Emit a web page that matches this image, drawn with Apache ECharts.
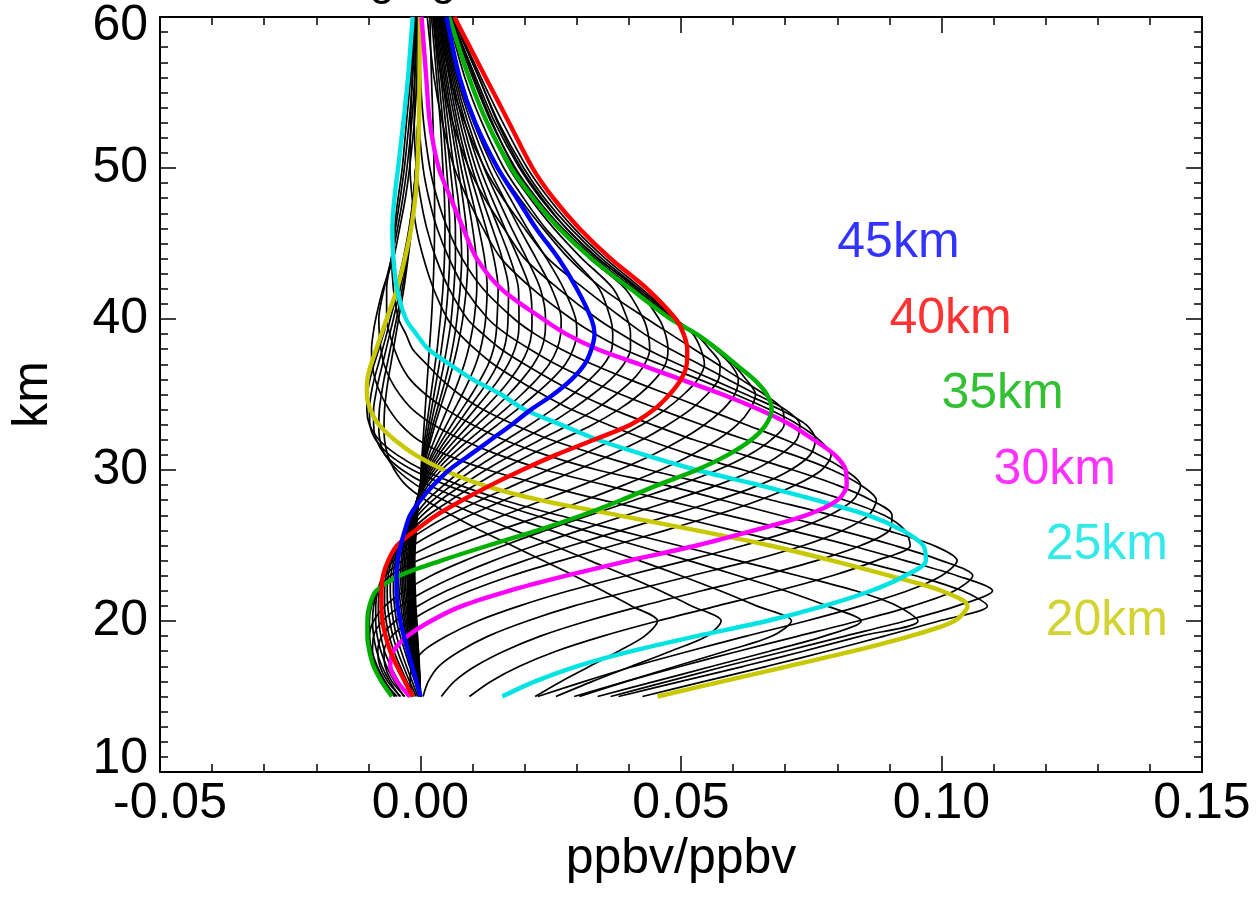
<!DOCTYPE html>
<html>
<head>
<meta charset="utf-8">
<title>Averaging Kernels</title>
<script src="https://cdn.jsdelivr.net/npm/echarts@6/dist/echarts.min.js"></script>
<style>
  html, body { margin: 0; padding: 0; background: #fff; }
  #chart { width: 1257px; height: 905px; }
</style>
</head>
<body>
<div id="chart"></div>
<script>
// altitude levels (km), shared by every kernel row
var alt = [15, 16, 17, 18, 19, 20, 21, 22, 23, 24, 25, 26, 27, 28, 29, 30, 31, 32, 33, 34,
           35, 36, 37, 38, 39, 40, 42, 44, 46, 48, 50, 53, 56, 60];

// averaging kernel rows, values in 1e-3 ppbv/ppbv, one row per nominal altitude
var k15 = [22, 27, 32.5, 38, 43, 45.5, 40.5, 35, 29.5, 23.5, 17.5, 11.5, 6, 1, -2.8, -5, -6.3, -6.9, -7, -6.9, -6.6, -6.2, -5.7, -5.2, -4.7, -4.2, -3.2, -2.4, -1.7, -1.2, -0.8, -0.4, -0.2, -0.1];
var k16 = [26, 33, 40.5, 48, 55, 57.7, 52, 46, 39.5, 32.5, 25.5, 18, 11, 4.5, -0.8, -4.5, -6.8, -7.8, -8, -7.9, -7.5, -7, -6.4, -5.8, -5.2, -4.6, -3.5, -2.6, -1.9, -1.3, -0.9, -0.5, -0.3, -0.1];
var k17 = [30.5, 39.5, 49, 58.5, 67.5, 71.2, 64.5, 57.5, 50, 42, 33.5, 25, 16.5, 8.5, 1.5, -3.5, -6.8, -8.5, -9, -9, -8.6, -8, -7.3, -6.6, -5.9, -5.2, -3.9, -2.8, -2, -1.4, -0.9, -0.5, -0.3, -0.1];
var k18 = [34, 45, 56, 67, 77.5, 84.6, 78, 70, 61, 51.5, 41.5, 31.5, 22, 13, 5, -1.5, -6, -8.6, -9.7, -9.8, -9.5, -8.9, -8.1, -7.3, -6.5, -5.8, -4.3, -3, -2.1, -1.4, -0.9, -0.5, -0.3, -0.1];
var k19 = [38, 50, 62, 73.5, 84.5, 95.5, 91.5, 83.5, 72.5, 61, 49.5, 38, 26.5, 16, 7.5, 0.5, -4.5, -8, -9.8, -10.3, -10.2, -9.7, -8.9, -8, -7.1, -6.3, -4.7, -3.3, -2.2, -1.4, -0.9, -0.5, -0.3, -0.1];
var k20 = [45.5, 58, 70.5, 83, 94, 102.5, 105, 100, 90, 79, 67, 53, 38, 23, 12, 4.5, -1, -5, -8, -9.6, -10.3, -10.2, -9.5, -8.5, -7.5, -6.5, -4.5, -3, -1.8, -1, -0.6, -0.3, -0.2, -0.1];
var k21 = [42.6, 54.5, 66.5, 78, 89, 99.5, 108.8, 104, 95, 84, 72, 60, 48, 35, 23.5, 13, 5, -0.5, -3.8, -6, -7.6, -8.7, -9.3, -9.4, -9.1, -8.6, -7.2, -5.2, -4, -2.9, -2.1, -1.2, -0.7, -0.4];
var k22 = [36.5, 47.5, 58.5, 70, 81.5, 93, 103, 109.8, 103, 93, 82.5, 71, 59, 47, 35.5, 24, 15, 8, 2.5, -1.5, -4, -5.8, -7, -7.6, -7.9, -8, -7, -5.6, -4.4, -3.4, -2.6, -1.7, -1.1, -0.6];
var k23 = [29.5, 39.5, 50, 61, 72.5, 84, 94.5, 102.5, 106, 100, 91, 80.5, 69, 58, 47, 34, 24, 16, 10, 5, 1, -2, -3.8, -5, -5.9, -6.5, -6.5, -5.6, -4.8, -3.9, -3.1, -2.2, -1.5, -0.9];
var k24 = [22.5, 31.5, 41, 51.5, 62.5, 74, 84.5, 93.5, 100, 103, 98.5, 89.5, 79, 67.5, 56, 44, 34, 25, 18, 12, 7.5, 4, 1.2, -1.5, -2.8, -4.2, -5.2, -5.5, -5, -4.3, -3.5, -2.7, -1.9, -1.2];
var k25 = [15.7, 22, 30, 40.5, 53, 66.5, 77.5, 86.5, 93, 97, 96.5, 92.5, 86, 76, 65, 53, 43, 34, 27, 20, 15.5, 10, 5.6, 1.5, -0.8, -2.8, -4.5, -5.2, -5.4, -5, -4.3, -3.3, -2.4, -1.5];
var k26 = [9.4, 13.5, 19, 26, 35, 45.5, 57, 68.5, 79, 87.5, 94, 93, 89, 81.5, 72, 62, 52, 43.5, 36, 29, 23.5, 18.5, 14, 10.5, 7.5, 5.2, 2.5, 0.6, -0.8, -1.6, -2, -1.9, -1.6, -1.2];
var k27 = [4, 6.5, 10.5, 16, 23, 32, 42.5, 54, 65.5, 76, 84.5, 90, 90.5, 86.5, 80, 71.5, 62, 52.5, 44.5, 37, 30.5, 25, 20, 15.5, 12, 9, 5.5, 3, 1.2, 0, -0.8, -1.2, -1.1, -0.9];
var k28 = [0.5, 1.5, 3.5, 7.5, 13, 20.5, 29.5, 40.5, 52, 63.5, 73.5, 81, 86, 87.5, 84.5, 79, 71.5, 62.5, 54, 46, 38.5, 32, 26, 21, 16.5, 13, 8.5, 5.5, 3.2, 1.6, 0.5, -0.3, -0.6, -0.6];
var k29 = [-1.5, -2, -1.5, 0.5, 5, 11, 19, 28.5, 39.5, 51, 62, 71.5, 78.5, 83, 84.5, 81.5, 76.5, 70, 62.5, 55, 47.5, 40, 33, 27, 22, 18, 12, 8, 5.2, 3.2, 1.8, 0.6, 0, -0.2];
var k30 = [-2, -4.5, -5.8, -5.2, -2.5, 2, 8, 17, 28, 40, 53, 64, 74, 80, 81.8, 81.6, 79.5, 75.5, 71, 65, 58, 50, 42, 34, 28, 23.5, 15.5, 10.8, 8.2, 5.8, 3.5, 1.8, 1.1, 0.2];
var k31 = [-3, -5.5, -6.8, -7, -5.5, -2, 3, 9.5, 17.5, 27, 37, 47, 56.5, 65, 72, 77, 78.8, 76.5, 72.5, 67, 60.5, 53.5, 46, 39, 33.5, 29, 21.5, 15.5, 12, 9, 6.5, 4.2, 2.6, 1.3];
var k32 = [-3.8, -6.3, -7.8, -8.2, -7.4, -4.8, -0.5, 5, 12, 20, 29, 38.5, 48, 57, 65, 71, 74.8, 75.8, 74, 69, 62.5, 56, 49.5, 43.5, 38.5, 34, 26.5, 20, 16, 12.3, 9.3, 6.2, 4, 2.4];
var k33 = [-4.5, -7, -8.6, -9.2, -9, -7.3, -3.8, 1, 7, 14, 22, 30.5, 39.5, 48.5, 57, 64, 69, 72.2, 72.8, 70, 64.5, 59, 53.5, 48, 43, 39, 31.5, 24.5, 20, 15.8, 12.3, 8.5, 5.6, 3.5];
var k34 = [-5, -7.3, -8.9, -9.6, -9.8, -9, -6.8, -3, 2, 8.5, 16, 24, 32.5, 41, 49.5, 57, 63, 67.3, 69.8, 69.5, 66, 61.5, 57, 52.5, 48, 43.5, 35, 28.5, 23.5, 19, 15, 10.5, 7.2, 4.6];
var k35 = [-5.5, -7.5, -9, -9.8, -10.2, -10.2, -9.8, -8.5, -4, 4, 13, 22.5, 31, 38.5, 45.5, 53, 59, 63.5, 66.3, 67.4, 66.5, 64, 60.5, 57, 53, 48, 40.3, 32.8, 26.6, 21.6, 17.4, 12.8, 9.3, 5.5];
var k36 = [-4.8, -6.8, -8.3, -9.3, -9.8, -9.8, -9.4, -8.3, -5.8, -0.5, 7, 15, 23.5, 31.5, 39, 46, 52, 57, 60.8, 63.2, 64.3, 62.5, 60, 56.8, 52.8, 48.2, 41, 33.5, 27.3, 22.3, 18.2, 13.6, 10, 5.7];
var k37 = [-4, -5.9, -7.4, -8.4, -9, -9.2, -9, -8.3, -6.8, -3.5, 2, 8.5, 16, 23.5, 31, 38, 44.5, 50, 54.5, 58, 60.3, 61, 59.5, 56.5, 53, 48.5, 41.5, 34.2, 28, 23, 19, 14.3, 10.6, 5.9];
var k38 = [-3.2, -5, -6.5, -7.6, -8.3, -8.6, -8.6, -8.2, -7.2, -5.2, -1.5, 3.5, 9.5, 16, 23, 30, 36.5, 42.5, 47.5, 51.8, 55, 57.2, 57.5, 55.5, 52.8, 48.8, 42, 34.8, 28.8, 23.8, 19.8, 15, 11.2, 6.1];
var k39 = [-2.4, -4.2, -5.7, -6.9, -7.6, -8, -8.1, -7.9, -7.3, -6, -3.5, 0.5, 5.5, 11.5, 18, 24.5, 31, 37, 42.5, 47, 50.5, 53.2, 54.5, 53.8, 52.3, 49, 42.5, 35.5, 29.5, 24.6, 20.5, 15.8, 11.6, 6.3];
var k40 = [-1.5, -3, -4.5, -5.8, -6.7, -7.3, -7.5, -7.5, -7.2, -6.2, -4.5, -1, 3, 8, 13.5, 19.5, 26, 33.3, 40.3, 44.8, 47.8, 50, 51.1, 51.2, 50.5, 49, 43.5, 36.5, 30.5, 25.5, 21.5, 17, 12.5, 6.5];
var k41 = [-1.2, -2.6, -3.9, -5.1, -6, -6.6, -6.9, -6.9, -6.6, -5.8, -4.3, -1.8, 1.5, 5.8, 10.5, 15.5, 21, 27, 33, 38, 42, 45, 47, 47.5, 47, 45.8, 41.5, 34, 28, 23.3, 19.3, 14.8, 11.2, 6.2];
var k42 = [-0.8, -2.1, -3.3, -4.4, -5.3, -5.9, -6.3, -6.4, -6.2, -5.5, -4.2, -2.3, 0.3, 3.8, 8, 12.5, 17.5, 23, 28.5, 33.5, 37.5, 40.8, 43, 44, 43.7, 42.8, 39.3, 32.5, 26.8, 22, 18, 13.8, 10.3, 5.9];
var k43 = [-0.5, -1.6, -2.7, -3.7, -4.6, -5.2, -5.6, -5.8, -5.7, -5.1, -4, -2.5, -0.5, 2.4, 6, 10, 14.5, 19.5, 24.5, 29, 33, 36.5, 39, 40.3, 40.3, 39.7, 37, 31, 25.6, 21, 17, 12.8, 9.4, 5.6];
var k44 = [-0.2, -1.1, -2.1, -3, -3.9, -4.6, -5, -5.2, -5.2, -4.8, -3.9, -2.7, -1, 1.3, 4.5, 8, 12, 16.5, 21, 25.3, 29.2, 32.5, 35.2, 36.7, 36.9, 36.5, 34.3, 29.2, 24, 19.8, 16, 11.8, 8.5, 5.3];
var k45 = [0, -0.8, -1.6, -2.4, -3.2, -3.9, -4.4, -4.6, -4.6, -4.4, -3.8, -3, -2, 0, 2.5, 5.5, 9.5, 13.5, 17.5, 21.2, 25.5, 29, 31.5, 32.8, 33.4, 32.8, 30, 26.5, 22.2, 18.5, 14.8, 10.5, 7.5, 5];
var k46 = [0, -0.6, -1.3, -2, -2.7, -3.3, -3.8, -4.1, -4.2, -4.1, -3.6, -2.9, -1.9, -0.4, 1.5, 4, 7.3, 11, 14.8, 18.5, 22, 25.2, 27.8, 29.3, 30, 29.8, 27.5, 24.2, 20.5, 17.2, 14, 10.2, 7.3, 4.8];
var k47 = [0, -0.5, -1.1, -1.8, -2.4, -3, -3.4, -3.7, -3.8, -3.7, -3.3, -2.7, -1.8, -0.6, 1, 3.2, 6, 9.3, 12.8, 16.2, 19.4, 22.3, 24.7, 26.2, 26.9, 27, 25.2, 22.2, 19, 16, 13.1, 9.7, 7, 4.6];
var k48 = [0, -0.4, -1, -1.6, -2.2, -2.7, -3.1, -3.4, -3.5, -3.4, -3.1, -2.5, -1.7, -0.7, 0.7, 2.6, 5, 7.8, 10.9, 14, 16.9, 19.5, 21.7, 23.2, 23.9, 24, 23, 20.4, 17.5, 14.8, 12.2, 9.1, 6.7, 4.4];
var k49 = [0, -0.4, -0.9, -1.4, -2, -2.4, -2.8, -3.1, -3.2, -3.1, -2.8, -2.3, -1.6, -0.7, 0.5, 2.1, 4.2, 6.7, 9.4, 12.1, 14.8, 17.2, 19.2, 20.6, 21.3, 21.4, 21, 18.8, 16.2, 13.7, 11.4, 8.6, 6.4, 4.2];
var k50 = [0, -0.3, -0.8, -1.3, -1.8, -2.2, -2.5, -2.8, -2.9, -2.8, -2.6, -2.1, -1.5, -0.7, 0.3, 1.7, 3.5, 5.7, 8, 10.4, 12.8, 15, 16.8, 18.1, 18.8, 18.9, 18.8, 17.2, 15, 12.7, 10.6, 8.1, 6.1, 4];
var k51 = [0, -0.3, -0.7, -1.1, -1.6, -2, -2.3, -2.5, -2.6, -2.5, -2.3, -1.9, -1.4, -0.7, 0.2, 1.4, 3, 4.9, 7, 9.1, 11.2, 13.2, 14.8, 16, 16.6, 16.8, 16.9, 15.7, 13.8, 11.8, 9.9, 7.6, 5.8, 3.8];
var k52 = [0, -0.3, -0.6, -1, -1.4, -1.8, -2.1, -2.3, -2.4, -2.3, -2.1, -1.8, -1.3, -0.7, 0.1, 1.1, 2.5, 4.2, 6, 7.9, 9.8, 11.5, 13, 14, 14.5, 14.7, 14.9, 14.1, 12.6, 10.9, 9.2, 7.1, 5.5, 3.6];
var k53 = [0, -0.2, -0.5, -0.9, -1.3, -1.6, -1.9, -2.1, -2.2, -2.1, -1.9, -1.6, -1.2, -0.7, 0, 0.9, 2.1, 3.5, 5, 6.5, 8, 9.4, 10.6, 11.5, 12.1, 12.5, 12.8, 12.3, 11.2, 9.9, 8.5, 6.7, 5.1, 3.4];
var k54 = [0, -0.2, -0.5, -0.8, -1.1, -1.5, -1.7, -1.9, -2, -1.9, -1.8, -1.5, -1.1, -0.6, 0, 0.7, 1.6, 2.7, 3.9, 5.1, 6.3, 7.4, 8.4, 9.2, 9.8, 10.3, 10.8, 10.7, 10, 9, 7.8, 6.2, 4.8, 3.2];
var k55 = [0, -0.2, -0.4, -0.7, -1, -1.3, -1.5, -1.7, -1.8, -1.7, -1.6, -1.3, -1, -0.6, 0, 0.5, 1.2, 2, 2.8, 3.7, 4.6, 5.5, 6.3, 7, 7.6, 8.1, 8.8, 9.1, 8.8, 8.1, 7.2, 5.8, 4.5, 3];
var k56 = [0, -0.2, -0.4, -0.6, -0.9, -1.1, -1.3, -1.5, -1.6, -1.5, -1.4, -1.2, -0.9, -0.5, 0, 0.4, 1, 1.7, 2.4, 3.2, 4, 4.8, 5.5, 6.1, 6.6, 7, 7.6, 7.9, 7.7, 7.2, 6.4, 5.3, 4.2, 2.8];
var k57 = [0, -0.1, -0.3, -0.5, -0.8, -1, -1.2, -1.3, -1.4, -1.4, -1.3, -1.1, -0.8, -0.5, 0, 0.3, 0.8, 1.4, 2, 2.6, 3.3, 3.9, 4.5, 5, 5.5, 5.9, 6.4, 6.7, 6.7, 6.3, 5.7, 4.8, 3.9, 2.6];
var k58 = [0, -0.1, -0.3, -0.5, -0.7, -0.9, -1.1, -1.2, -1.3, -1.3, -1.2, -1, -0.7, -0.4, 0, 0.25, 0.6, 1.1, 1.6, 2.1, 2.6, 3.1, 3.6, 4, 4.4, 4.8, 5.3, 5.6, 5.6, 5.4, 5, 4.3, 3.5, 2.4];
var k59 = [0, -0.1, -0.3, -0.4, -0.6, -0.8, -1, -1.1, -1.2, -1.2, -1.1, -0.9, -0.7, -0.4, 0, 0.2, 0.5, 0.8, 1.2, 1.6, 2, 2.4, 2.8, 3.2, 3.5, 3.8, 4.3, 4.6, 4.7, 4.6, 4.3, 3.8, 3.1, 2.1];
var k60 = [0, -0.1, -0.2, -0.4, -0.6, -0.7, -0.9, -1, -1.1, -1.1, -1, -0.8, -0.6, -0.3, 0, 0.1, 0.3, 0.5, 0.7, 0.9, 1.1, 1.3, 1.5, 1.7, 1.9, 2.1, 2.4, 2.6, 2.7, 2.7, 2.6, 2.4, 2.1, 1.8];

var kernels = [k15, k16, k17, k18, k19, k20, k21, k22, k23, k24, k25, k26, k27, k28, k29, k30,
               k31, k32, k33, k34, k35, k36, k37, k38, k39, k40, k41, k42, k43, k44, k45,
               k46, k47, k48, k49, k50, k51, k52, k53, k54, k55, k56, k57, k58, k59, k60];
var kernelKm = [15, 16, 17, 18, 19, 20, 21, 22, 23, 24, 25, 26, 27, 28, 29, 30,
                31, 32, 33, 34, 35, 36, 37, 38, 39, 40, 41, 42, 43, 44, 45,
                46, 47, 48, 49, 50, 51, 52, 53, 54, 55, 56, 57, 58, 59, 60];

// highlighted rows and their tags
var tagKm = [20, 25, 30, 35, 40, 45];
var tagColor = ['#c8c800', '#00e3e3', '#ff00ff', '#00b000', '#ff0000', '#0000ff'];
var tagX = [0.12, 0.12, 0.11, 0.10, 0.09, 0.08];
var tagY = [20, 25, 30, 35, 40, 45];

var FONT = '"Liberation Sans", Arial, Helvetica, sans-serif';
var chart = echarts.init(document.getElementById('chart'));

var blackSeries = [], colorSeries = [];
kernels.forEach(function (row, i) {
  var c = tagKm.indexOf(kernelKm[i]);
  var s = {
    type: 'line',
    name: kernelKm[i] + 'km',
    data: row.map(function (v, j) { return [v / 1000, alt[j]]; }),
    symbol: 'none',
    smooth: 0.3,
    silent: true,
    z: c < 0 ? 2 : 3,
    lineStyle: { color: c < 0 ? '#000' : tagColor[c], width: c < 0 ? 1.7 : 4.4 }
  };
  if (c < 0) blackSeries.push(s); else colorSeries.push(s);
});

var tagSeries = {
  type: 'scatter',
  symbolSize: 0,
  silent: true,
  z: 4,
  data: tagKm.map(function (k, i) {
    return { value: [tagX[i], tagY[i]], label: { color: tagColor[i] } };
  }),
  label: {
    show: true, position: 'right', distance: 0,
    fontFamily: FONT, fontSize: 50,
    formatter: function (p) { return tagKm[p.dataIndex] + 'km'; }
  }
};

function frameAxis(extra) {
  var base = {
    type: 'value',
    axisLine: { show: true, onZero: false, lineStyle: { color: '#000', width: 2 } },
    axisTick: { show: true, inside: true, length: 16, lineStyle: { color: '#000', width: 1.5 } },
    splitLine: { show: false },
    axisLabel: { show: false }
  };
  return Object.assign(base, extra);
}

var xOpt = { min: -0.05, max: 0.15, interval: 0.05 };
var yOpt = { min: 10, max: 60, interval: 10 };
var xMinor = { show: true, splitNumber: 5, length: 8, lineStyle: { color: '#000', width: 1.5 } };
var yMinor = { show: true, splitNumber: 10, length: 8, lineStyle: { color: '#000', width: 1.5 } };
var labelText = { fontFamily: FONT, fontSize: 50, color: '#000' };

chart.setOption({
  animation: false,
  backgroundColor: '#fff',
  grid: { left: 160, right: 55, top: 17, bottom: 133 },
  graphic: [{
    type: 'text', left: 250, top: -42,
    style: { text: 'Averaging Kernels', font: '46px ' + FONT, fill: '#000' }
  }],
  xAxis: [
    frameAxis(Object.assign({
      position: 'bottom',
      minorTick: xMinor,
      name: 'ppbv/ppbv', nameLocation: 'middle', nameGap: 52,
      nameTextStyle: labelText,
      axisLabel: Object.assign({
        show: true, margin: 7,
        formatter: function (v) {
          var s = v.toFixed(2);
          return v < 0 ? '{neg|' + s + '}' : s;
        },
        rich: { neg: Object.assign({ padding: [0, 0, 0, 20] }, labelText) }
      }, labelText)
    }, xOpt)),
    frameAxis(Object.assign({ position: 'top', minorTick: xMinor }, xOpt))
  ],
  yAxis: [
    frameAxis(Object.assign({
      position: 'left',
      minorTick: yMinor,
      name: 'km', nameLocation: 'middle', nameGap: 102,
      nameTextStyle: labelText,
      axisLabel: Object.assign({
        show: true, margin: 12,
        formatter: function (v) {
          if (v === 10) return '{lo|' + v + '}';
          if (v === 60) return '{hi|' + v + '}';
          return '' + v;
        },
        rich: {
          lo: Object.assign({ padding: [0, 0, 26, 0] }, labelText),
          hi: Object.assign({ padding: [18, 0, 0, 0] }, labelText)
        }
      }, labelText)
    }, yOpt)),
    frameAxis(Object.assign({ position: 'right', minorTick: yMinor }, yOpt))
  ],
  series: blackSeries.concat(colorSeries, [tagSeries])
});
</script>
</body>
</html>
